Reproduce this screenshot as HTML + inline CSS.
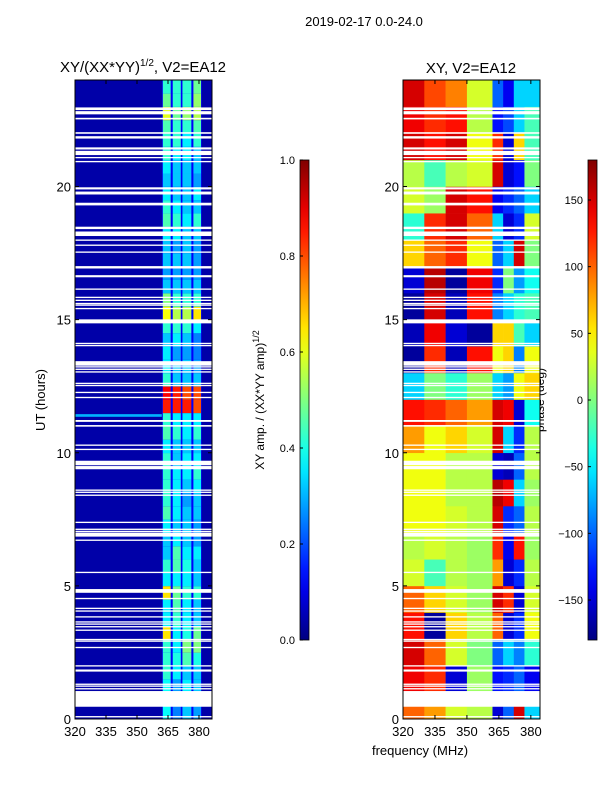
<!DOCTYPE html>
<html><head><meta charset="utf-8"><style>
body{margin:0;background:#fff;}
svg text{font-family:"Liberation Sans",sans-serif;fill:#000;}
</style></head><body>
<svg id="c" width="600" height="800" viewBox="0 0 600 800">
<defs><linearGradient id="jetg" x1="0" y1="1" x2="0" y2="0"></linearGradient></defs>
<text x="364" y="26" font-size="13" text-anchor="middle">2019-02-17 0.0-24.0</text>
<text x="143" y="72" font-size="15" text-anchor="middle">XY/(XX*YY)<tspan font-size="10" dy="-6">1/2</tspan><tspan dy="6">, V2=EA12</tspan></text>
<text x="471" y="73" font-size="15" text-anchor="middle">XY, V2=EA12</text>
<text x="420" y="755" font-size="13" text-anchor="middle">frequency (MHz)</text>
<text transform="translate(45,400) rotate(-90)" font-size="13" text-anchor="middle">UT (hours)</text>
<text transform="translate(264,400) rotate(-90)" font-size="12" text-anchor="middle">XY amp. / (XX*YY amp)<tspan font-size="9" dy="-5">1/2</tspan></text>
<text transform="translate(544,400) rotate(-90)" font-size="12" text-anchor="middle">phase (deg)</text>
<g id="left"></g>
<g id="right"></g>
<g id="axes"></g>
</svg>
<script>
const ampBandEdges=[[362.5,366.3],[367.3,371.2],[372,376.3],[377.3,381]];
const ampRows=[[0.38,0.25,0.32,0.28],[0.34,0.25,0.32,0.25],[0.38,0.28,0.36,0.32],[0.42,0.36,0.32,0.32],[0.42,0.4,0.45,0.4],[0.42,0.36,0.5,0.5],[0.65,0.36,0.4,0.48],[0.36,0.42,0.36,0.32],[0.36,0.45,0.36,0.32],[0.65,0.48,0.42,0.42],[0.36,0.36,0.36,0.32],[0.42,0.45,0.4,0.32],[0.32,0.45,0.36,0.36],[0.32,0.36,0.32,0.28],[0.36,0.32,0.32,0.28],[0.45,0.36,0.32,0.32],[0.42,0.36,0.28,0.32],[0.42,0.36,0.32,0.36],[0.42,0.36,0.36,0.42],[0.42,0.32,0.36,0.36],[0.36,0.32,0.32,0.32],[0.45,0.42,0.36,0.42],[0.42,0.36,0.36,0.36],[0.85,0.85,0.85,0.8],[0.88,0.85,0.8,0.8],[0.42,0.32,0.32,0.32],[0.36,0.32,0.32,0.28],[0.36,0.28,0.28,0.25],[0.32,0.36,0.32,0.25],[0.42,0.42,0.42,0.36],[0.62,0.55,0.55,0.65],[0.5,0.42,0.42,0.42],[0.32,0.32,0.32,0.32],[0.28,0.28,0.28,0.28],[0.32,0.32,0.32,0.28],[0.32,0.28,0.32,0.28],[0.36,0.36,0.32,0.32],[0.45,0.42,0.36,0.42],[0.42,0.36,0.32,0.32],[0.36,0.32,0.32,0.36],[0.32,0.32,0.32,0.28],[0.36,0.32,0.32,0.32],[0.42,0.36,0.36,0.32],[0.42,0.42,0.36,0.42],[0.45,0.42,0.42,0.45],[0.6,0.48,0.52,0.55],[0.48,0.42,0.42,0.52],[0.42,0.42,0.42,0.48]];
const ampBackground=0.04, ampSeparator=0.12;
const phaseColEdges=[320,330,340,350,362,367,372,377,385];
const phaseRows=[[100,80,30,20,-150,-100,150,-60],[140,120,-150,10,-130,-120,-100,-140],[150,100,30,0,-100,-60,-90,-30],[130,-170,60,20,100,-150,-120,40],[100,60,30,10,150,120,-150,30],[30,-20,20,10,80,-150,-120,20],[20,30,20,10,120,-140,130,10],[40,40,30,20,150,-120,-100,20],[40,40,20,20,160,140,-60,10],[40,40,20,20,-150,-160,-100,20],[80,40,60,30,150,-60,-120,20],[130,120,100,80,150,140,-150,-40],[-60,0,-30,10,-60,-80,40,60],[-170,120,-160,130,40,60,-90,40],[-160,140,-150,-170,60,60,-20,-60],[-170,150,-160,130,-90,-60,-30,-20],[-150,160,-170,140,-120,0,-80,-40],[60,100,120,40,-100,-60,150,0],[-30,120,150,100,-60,-150,-120,30],[30,10,150,130,-140,-120,-100,-60],[20,-20,20,30,150,-150,-130,0],[150,130,150,40,120,-150,60,-20],[140,120,130,20,-130,-110,-60,-20],[150,110,90,30,-100,-140,-60,-60]];
const gaps=[[22.87,22.97],[22.71,22.83],[22.52,22.58],[21.98,22.04],[21.8,21.89],[21.39,21.47],[21.18,21.34],[21.06,21.11],[20.91,20.96],[19.89,19.97],[19.70,19.81],[19.29,19.39],[18.40,18.49],[18.14,18.31],[17.96,18.01],[17.77,17.82],[17.51,17.56],[16.92,17.01],[16.59,16.67],[16.12,16.17],[15.81,15.86],[15.7,15.75],[15.58,15.63],[15.52,15.57],[15.39,15.44],[14.86,15.01],[14.08,14.13],[14.0,14.05],[13.27,13.44],[13.2,13.25],[13.11,13.16],[13.01,13.06],[12.58,12.63],[12.5,12.55],[12.24,12.29],[12.05,12.1],[11.16,11.23],[10.98,11.04],[10.26,10.31],[10.1,10.15],[9.53,9.70],[9.38,9.50],[8.57,8.62],[8.49,8.54],[8.38,8.43],[7.36,7.41],[7.1,7.15],[7.02,7.07],[6.85,7.0],[6.69,6.74],[5.48,5.53],[4.74,4.88],[4.5,4.55],[4.13,4.18],[4.03,4.08],[3.81,3.86],[3.62,3.67],[3.54,3.59],[3.44,3.49],[3.31,3.36],[2.96,3.01],[2.9,2.95],[2.66,2.71],[1.97,2.02],[1.78,1.86],[1.28,1.33],[1.21,1.26],[1.11,1.16],[0.46,1.05],[0.06,0.11]];
const ampTicks=[0,0.2,0.4,0.6,0.8,1.0];
const phaseTicks=[-150,-100,-50,0,50,100,150];
const freqTicks=[320,335,350,365,380];
const timeTicks=[0,5,10,15,20];

const NS='http://www.w3.org/2000/svg';
function jet(x){x=Math.max(0,Math.min(1,x));const cl=v=>Math.round(255*Math.max(0,Math.min(1,v)));
return `rgb(${cl(1.5-Math.abs(4*x-3))},${cl(1.5-Math.abs(4*x-2))},${cl(1.5-Math.abs(4*x-1))})`;}
function mk(tag,attrs,parent){const e=document.createElementNS(NS,tag);for(const k in attrs)e.setAttribute(k,attrs[k]);parent.appendChild(e);return e;}
const Y0=719,Y1=80;
const yS=h=>Y0-(h/24)*(Y0-Y1);
const L={x0:75,x1:212,f0:320,f1:386.3}, R={x0:403,x1:540,f0:320,f1:384.3};
const xS=(ax,f)=>ax.x0+(f-ax.f0)/(ax.f1-ax.f0)*(ax.x1-ax.x0);
const gl=document.getElementById('left'), gr=document.getElementById('right'), ga=document.getElementById('axes');
let r=mk('rect',{x:L.x0,y:Y1,width:L.x1-L.x0,height:Y0-Y1,fill:jet(ampBackground)},gl);

ampRows.forEach((row,i)=>{
  const h0=i*0.5,h1=h0+0.5;const yt=yS(h1),yb=yS(h0);
  const sep=mk('rect',{x:xS(L,ampBandEdges[0][0]-0.3),y:yt,width:xS(L,ampBandEdges[3][1]+0.3)-xS(L,ampBandEdges[0][0]-0.3),height:yb-yt+0.3,fill:jet(ampSeparator)},gl);
  
  row.forEach((v,b)=>{
    const c=mk('rect',{x:xS(L,ampBandEdges[b][0]),y:yt,width:xS(L,ampBandEdges[b][1])-xS(L,ampBandEdges[b][0]),height:yb-yt+0.3,fill:jet(v)},gl);
    
  });
});
r=mk('rect',{x:L.x0,y:yS(11.45),width:xS(L,362)-L.x0,height:yS(11.35)-yS(11.45),fill:jet(0.3)},gl);

phaseRows.forEach((row,i)=>{
  const yt=yS(i+1),yb=yS(i);
  row.forEach((p,c)=>{
    const x0=xS(R,phaseColEdges[c]),x1=Math.min(R.x1,xS(R,phaseColEdges[c+1]));
    const e=mk('rect',{x:x0,y:yt,width:x1-x0+0.3,height:yb-yt+0.3,fill:jet((p+180)/360)},gr);
    
  });
});
[L,R].forEach((ax,k)=>{
  gaps.forEach(g=>{const e=mk('rect',{x:ax.x0,y:yS(g[1]),width:ax.x1-ax.x0,height:yS(g[0])-yS(g[1]),fill:'#fff'},k?gr:gl);
  });
  const f=mk('rect',{x:ax.x0,y:Y1,width:ax.x1-ax.x0,height:Y0-Y1,fill:'none',stroke:'#000','stroke-width':1},ga);
  
  freqTicks.forEach(t=>{const x=xS(ax,t);
    mk('line',{x1:x,y1:Y0,x2:x,y2:Y0-4,stroke:'#000'},ga);mk('line',{x1:x,y1:Y1,x2:x,y2:Y1+4,stroke:'#000'},ga);
    const tx=mk('text',{x:x,y:Y0+17,'font-size':13,'text-anchor':'middle'},ga);tx.textContent=t;
    });
  timeTicks.forEach(t=>{const y=yS(t);
    mk('line',{x1:ax.x0,y1:y,x2:ax.x0+4,y2:y,stroke:'#000'},ga);mk('line',{x1:ax.x1,y1:y,x2:ax.x1-4,y2:y,stroke:'#000'},ga);
    const tx=mk('text',{x:ax.x0-4,y:y+5,'font-size':13,'text-anchor':'end'},ga);tx.textContent=t;
    });
});
const gd=document.getElementById('jetg');
for(let i=0;i<=20;i++){mk('stop',{offset:(i/20),'stop-color':jet(i/20)},gd);}
function colorbar(x,ticks,vmin,vmax,name,fmt){
  const yt=160,yb=640;
  const b=mk('rect',{x:x,y:yt,width:9,height:yb-yt,fill:'url(#jetg)',stroke:'#000','stroke-width':0.8},ga);
  
  ticks.forEach(t=>{const y=yb-(t-vmin)/(vmax-vmin)*(yb-yt);
    mk('line',{x1:x,y1:y,x2:x+3,y2:y,stroke:'#000'},ga);
    const tx=mk('text',{x:x-5,y:y+4,'font-size':11,'text-anchor':'end'},ga);tx.textContent=fmt(t);
    });
}
colorbar(300,ampTicks,0,1,'amp-colorbar',t=>t.toFixed(1));
colorbar(588,phaseTicks,-180,180,'phase-colorbar',t=>t<0?'\u2212'+(-t):''+t);
</script>
</body></html>
